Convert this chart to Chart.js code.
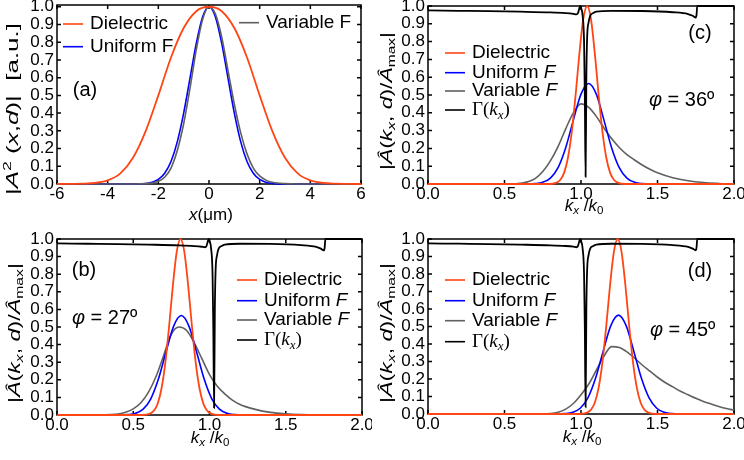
<!DOCTYPE html>
<html lang="en">
<head>
<meta charset="UTF-8" />
<title>Beam profile and angular spectra</title>
<script src="https://cdn.jsdelivr.net/npm/chart.js"></script>
<style>
  body { margin: 0; background: #fff; width: 744px; height: 460px; overflow: hidden; position: relative; }
  canvas { position: absolute; }
</style>
</head>
<body>
<canvas id="panelA" width="372" height="230" style="left:0;top:0"></canvas>
<canvas id="panelC" width="372" height="230" style="left:372px;top:0"></canvas>
<canvas id="panelB" width="372" height="230" style="left:0;top:230px"></canvas>
<canvas id="panelD" width="372" height="230" style="left:372px;top:230px"></canvas>
<script>
// ---- panel (a): |A^2(x,d)| versus x (um) ----
const xTicksA = [-6, -4, -2, 0, 2, 4, 6];
const yTicks = [0, 0.1, 0.2, 0.3, 0.4, 0.5, 0.6, 0.7, 0.8, 0.9, 1.0];

const dielAx = [-6, -5.5, -5, -4.5, -4, -3.5, -3, -2.5, -2, -1.5, -1, -0.5, 0, 0.5, 1, 1.5, 2, 2.5, 3, 3.5, 4, 4.5, 5, 5.5, 6];
const dielAy = [0, 0.001, 0.002, 0.006, 0.02, 0.06, 0.148, 0.298, 0.5, 0.714, 0.88, 0.975, 1, 0.975, 0.88, 0.714, 0.5, 0.298, 0.148, 0.06, 0.02, 0.006, 0.002, 0.001, 0];
const unifAx = [-6, -3, -2.5, -2.25, -2, -1.75, -1.5, -1.25, -1, -0.75, -0.5, -0.25, 0, 0.25, 0.5, 0.75, 1, 1.25, 1.5, 1.75, 2, 2.25, 2.5, 3, 6];
const unifAy = [0, 0, 0.003, 0.01, 0.026, 0.061, 0.127, 0.239, 0.40, 0.597, 0.795, 0.944, 1, 0.944, 0.795, 0.597, 0.40, 0.239, 0.127, 0.061, 0.026, 0.01, 0.003, 0, 0];
const varAx = [-6, -3, -2.5, -2.25, -2, -1.75, -1.5, -1.25, -1, -0.75, -0.5, -0.25, 0, 0.25, 0.5, 0.75, 1, 1.25, 1.5, 1.75, 2, 2.25, 2.5, 3, 3.5, 6];
const varAy = [0, 0, 0.002, 0.006, 0.015, 0.038, 0.09, 0.19, 0.34, 0.54, 0.76, 0.93, 1, 0.96, 0.83, 0.64, 0.45, 0.29, 0.17, 0.09, 0.046, 0.022, 0.01, 0.002, 0, 0];

// ---- panels (b), (c), (d): spectra versus kx/k0 ----
const xTicksK = [0, 0.5, 1.0, 1.5, 2.0];

// reflection coefficient, same in all three spectra
const gammaX = [0, 0.2, 0.4, 0.6, 0.8, 0.9, 0.95, 0.97, 0.98, 0.99, 0.995, 1.0, 1.01, 1.02, 1.025, 1.03, 1.035, 1.04, 1.05, 1.06, 1.08, 1.1, 1.2, 1.4, 1.6, 1.7, 1.73, 1.75, 1.755, 1.76, 2.0];
const gammaY = [0.975, 0.973, 0.971, 0.968, 0.964, 0.96, 0.956, 0.953, 0.96, 0.99, 1.0, 0.99, 0.95, 0.8, 0.5, 0.04, 0.6, 0.82, 0.91, 0.945, 0.96, 0.968, 0.973, 0.972, 0.965, 0.955, 0.945, 0.935, 0.95, 1.0, 1.0];

// phi = 27 deg
const dielBx = [0, 0.56, 0.61, 0.635, 0.66, 0.685, 0.71, 0.735, 0.76, 0.785, 0.81, 0.835, 0.86, 0.885, 0.91, 0.935, 0.96, 0.985, 1.01, 1.06, 2.0];
const dielBy = [0, 0, 0.008, 0.024, 0.064, 0.149, 0.295, 0.503, 0.737, 0.927, 1.0, 0.927, 0.737, 0.503, 0.295, 0.149, 0.064, 0.024, 0.008, 0, 0];
const unifBx = [0, 0.415, 0.465, 0.515, 0.565, 0.615, 0.665, 0.715, 0.765, 0.815, 0.865, 0.915, 0.965, 1.015, 1.065, 1.115, 1.165, 1.215, 2.0];
const unifBy = [0, 0, 0.002, 0.0096, 0.033, 0.092, 0.204, 0.359, 0.505, 0.565, 0.505, 0.359, 0.204, 0.092, 0.033, 0.0096, 0.002, 0, 0];
const varBx = [0, 0.3, 0.35, 0.4, 0.45, 0.5, 0.55, 0.6, 0.65, 0.7, 0.75, 0.8, 0.85, 0.9, 0.95, 1.0, 1.05, 1.1, 1.15, 1.2, 1.3, 1.4, 1.5, 1.6, 1.8, 2.0];
const varBy = [0, 0, 0.002, 0.006, 0.016, 0.035, 0.07, 0.13, 0.22, 0.34, 0.46, 0.50, 0.48, 0.41, 0.32, 0.23, 0.165, 0.12, 0.085, 0.06, 0.032, 0.015, 0.007, 0.003, 0, 0];

// phi = 36 deg
const dielCx = [0, 0.79, 0.84, 0.865, 0.89, 0.915, 0.94, 0.965, 0.99, 1.015, 1.04, 1.065, 1.09, 1.115, 1.14, 1.165, 1.19, 1.215, 1.24, 1.29, 2.0];
const dielCy = [0, 0, 0.008, 0.024, 0.064, 0.149, 0.295, 0.503, 0.737, 0.927, 1.0, 0.927, 0.737, 0.503, 0.295, 0.149, 0.064, 0.024, 0.008, 0, 0];
const unifCx = [0, 0.65, 0.7, 0.75, 0.8, 0.85, 0.9, 0.95, 1.0, 1.05, 1.1, 1.15, 1.2, 1.25, 1.3, 1.35, 1.4, 1.45, 2.0];
const unifCy = [0, 0, 0.002, 0.0096, 0.033, 0.092, 0.204, 0.359, 0.505, 0.565, 0.505, 0.359, 0.204, 0.092, 0.033, 0.0096, 0.002, 0, 0];
const varCx = [0, 0.55, 0.6, 0.65, 0.7, 0.75, 0.8, 0.85, 0.9, 0.95, 1.0, 1.05, 1.1, 1.15, 1.2, 1.25, 1.3, 1.35, 1.4, 1.45, 1.5, 1.6, 1.7, 1.8, 1.9, 2.0];
const varCy = [0, 0, 0.004, 0.012, 0.03, 0.07, 0.13, 0.21, 0.31, 0.40, 0.45, 0.43, 0.38, 0.315, 0.255, 0.205, 0.165, 0.135, 0.107, 0.083, 0.063, 0.035, 0.018, 0.008, 0.003, 0];

// phi = 45 deg
const dielDx = [0, 0.99, 1.04, 1.065, 1.09, 1.115, 1.14, 1.165, 1.19, 1.215, 1.24, 1.265, 1.29, 1.315, 1.34, 1.365, 1.39, 1.415, 1.44, 1.49, 2.0];
const dielDy = [0, 0, 0.008, 0.024, 0.064, 0.149, 0.295, 0.503, 0.737, 0.927, 1.0, 0.927, 0.737, 0.503, 0.295, 0.149, 0.064, 0.024, 0.008, 0, 0];
const unifDx = [0, 0.845, 0.895, 0.945, 0.995, 1.045, 1.095, 1.145, 1.195, 1.245, 1.295, 1.345, 1.395, 1.445, 1.495, 1.545, 1.595, 1.645, 2.0];
const unifDy = [0, 0, 0.002, 0.0096, 0.033, 0.092, 0.204, 0.359, 0.505, 0.565, 0.505, 0.359, 0.204, 0.092, 0.033, 0.0096, 0.002, 0, 0];
const varDx = [0, 0.75, 0.8, 0.85, 0.9, 0.95, 1.0, 1.05, 1.1, 1.15, 1.2, 1.25, 1.3, 1.35, 1.4, 1.45, 1.5, 1.55, 1.6, 1.65, 1.7, 1.75, 1.8, 1.85, 1.9, 1.95, 2.0];
const varDy = [0, 0, 0.002, 0.01, 0.028, 0.06, 0.11, 0.17, 0.25, 0.33, 0.385, 0.38, 0.355, 0.32, 0.28, 0.245, 0.21, 0.18, 0.155, 0.13, 0.11, 0.09, 0.072, 0.057, 0.043, 0.031, 0.022];

const SANS = '"Liberation Sans", Arial, sans-serif';
const SERIF = '"Liberation Serif", "Times New Roman", serif';
const RED = '#ff4514', BLUE = '#0000ff', GRAY = '#606060', BLACK = '#000000';

// rich text runs: [text, flags]  i = italic, b = subscript, p = superscript, r = serif
function runFont(flags, size) {
  const s = /[bp]/.test(flags) ? size * 0.68 : size;
  return (flags.includes('i') ? 'italic ' : '') + s + 'px ' + (flags.includes('r') ? SERIF : SANS);
}
function richWidth(ctx, runs, size) {
  let w = 0;
  for (const [t, f] of runs) { ctx.font = runFont(f, size); w += ctx.measureText(t).width; }
  return w;
}
function drawRich(ctx, runs, x, y, size, center) {
  let cx = center ? x - richWidth(ctx, runs, size) / 2 : x;
  ctx.textBaseline = 'middle';
  ctx.textAlign = 'left';
  ctx.fillStyle = '#000';
  for (const [t, f] of runs) {
    ctx.font = runFont(f, size);
    const dy = f.includes('b') ? size * 0.28 : f.includes('p') ? -size * 0.32 : 0;
    ctx.fillText(t, cx, y + dy);
    cx += ctx.measureText(t).width;
  }
}

const yTitleA = [['|', ''], ['A', 'i'], ['2', 'p'], [' (', ''], ['x', 'i'], [',', ''], ['d', 'i'], [')|  [a.u.]', '']];
const xTitleA = [['x', 'i'], ['(\u03bcm)', '']];
const yTitleK = [['|', ''], ['\u00c2', 'i'], ['(', ''], ['k', 'i'], ['x', 'ib'], [', ', ''], ['d', 'i'], [')/', ''], ['\u00c2', 'i'], ['max', 'b'], ['|', '']];
const xTitleK = [['k', 'i'], ['x', 'ib'], [' /', ''], ['k', 'i'], ['0', 'b']];
const gammaLabel = [['\u0393(', 'r'], ['k', 'ri'], ['x', 'rib'], [')', 'r']];
const specLabels = [[['Dielectric', '']], [['Uniform ', ''], ['F', 'i']], [['Variable ', ''], ['F', 'i']], gammaLabel];
const phi = deg => [['\u03c6', 'i'], [' = ' + deg + '\u00ba', '']];

// box with inward ticks on all four sides
const framePlugin = {
  id: 'frame',
  beforeDatasetsDraw(chart) {
    const { ctx, chartArea: a, scales: { x, y } } = chart;
    ctx.save();
    ctx.strokeStyle = '#000';
    ctx.lineWidth = 1.5;
    ctx.strokeRect(a.left, a.top, a.right - a.left, a.bottom - a.top);
    ctx.beginPath();
    x.ticks.forEach(t => {
      const px = x.getPixelForValue(t.value);
      ctx.moveTo(px, a.bottom); ctx.lineTo(px, a.bottom - 4);
      ctx.moveTo(px, a.top); ctx.lineTo(px, a.top + 4);
    });
    y.ticks.forEach(t => {
      const py = y.getPixelForValue(t.value);
      ctx.moveTo(a.left, py); ctx.lineTo(a.left + 4, py);
      ctx.moveTo(a.right, py); ctx.lineTo(a.right - 4, py);
    });
    ctx.stroke();
    ctx.restore();
  }
};

// axis titles, panel letter, angle and the legend
function notesPlugin(n) {
  return {
    id: 'notes',
    afterDraw(chart) {
      const ctx = chart.ctx;
      const ds = chart.data.datasets;
      const [yRuns, yx, yy, yLen] = n.yTitle;
      ctx.save();
      ctx.save();
      ctx.translate(yx, yy);
      ctx.rotate(-Math.PI / 2);
      ctx.scale(yLen / richWidth(ctx, yRuns, 17), 1);
      drawRich(ctx, yRuns, 0, 0, 17, true);
      ctx.restore();
      drawRich(ctx, n.xTitle[0], n.xTitle[1], n.xTitle[2], 17, true);
      drawRich(ctx, [[n.tag[0], '']], n.tag[1], n.tag[2], 20, true);
      if (n.phi) drawRich(ctx, n.phi[0], n.phi[1], n.phi[2], 20, false);
      n.legend.forEach(([idx, runs, x0, y0]) => {
        ctx.strokeStyle = ds[idx].borderColor;
        ctx.lineWidth = 1.6;
        ctx.beginPath();
        ctx.moveTo(x0, y0); ctx.lineTo(x0 + 20, y0);
        ctx.stroke();
        drawRich(ctx, runs, x0 + 27, y0, 19, false);
      });
      ctx.restore();
    }
  };
}

function series(xs, ys, color, width, order) {
  return {
    data: xs.map((x, i) => ({ x, y: ys[i] })),
    borderColor: color, borderWidth: width, order, clip: false,
    pointRadius: 0, cubicInterpolationMode: 'monotone'
  };
}

function makePanel(id, datasets, p) {
  const tickFont = { family: SANS, size: 17 };
  return new Chart(document.getElementById(id), {
    type: 'line',
    data: { datasets },
    options: {
      responsive: false,
      animation: false,
      events: [],
      layout: { padding: { top: p.top, right: p.right, left: 0, bottom: 0 } },
      plugins: { legend: { display: false }, tooltip: { enabled: false } },
      scales: {
        x: {
          type: 'linear', min: p.xMin, max: p.xMax,
          grid: { display: false, drawTicks: false }, border: { display: false },
          ticks: { font: tickFont, color: '#000', padding: 0, maxRotation: 0, autoSkip: false, callback: p.xFmt },
          afterBuildTicks: s => { s.ticks = p.xTicks.map(v => ({ value: v })); },
          afterFit: s => { s.height = p.xHeight; s.paddingLeft = 0; s.paddingRight = 0; }
        },
        y: {
          type: 'linear', min: 0, max: p.yMax,
          grid: { display: false, drawTicks: false }, border: { display: false },
          ticks: { font: tickFont, color: '#000', padding: 3, autoSkip: false, callback: v => v.toFixed(1) },
          afterBuildTicks: s => { s.ticks = yTicks.map(v => ({ value: v })); },
          afterFit: s => { s.width = p.left; s.paddingTop = 0; s.paddingBottom = 0; }
        }
      }
    },
    plugins: [framePlugin, notesPlugin(p.notes)]
  });
}

const fmtInt = v => String(v);
const fmtOne = v => v.toFixed(1);

makePanel('panelA', [
  series(dielAx, dielAy, RED, 1.8, 0),
  series(varAx, varAy, GRAY, 1.6, 1),
  series(unifAx, unifAy, BLUE, 1.6, 2)
], {
  xMin: -6, xMax: 6, xTicks: xTicksA, xFmt: fmtInt, yMax: 1.01,
  left: 57, top: 5, right: 11, xHeight: 46,
  notes: {
    yTitle: [yTitleA, 13, 109, 172], xTitle: [xTitleA, 211, 215], tag: ['(a)', 85, 90],
    legend: [[0, [['Dielectric', '']], 63, 24], [2, [['Uniform F', '']], 63, 46.7], [1, [['Variable F', '']], 239, 22.7]]
  }
});

function specPanel(id, dx, dy, ux, uy, vx, vy, p) {
  return makePanel(id, [
    series(dx, dy, RED, 1.8, 1),
    series(ux, uy, BLUE, 1.6, 2),
    series(vx, vy, GRAY, 1.6, 3),
    series(gammaX, gammaY, BLACK, 1.8, 0)
  ], Object.assign({ xMin: 0, xMax: 2, xTicks: xTicksK, xFmt: fmtOne, yMax: 1 }, p));
}

function specLegend(x0, rows) {
  return specLabels.map((runs, i) => [i, runs, x0, rows[i]]);
}

specPanel('panelC', dielCx, dielCy, unifCx, unifCy, varCx, varCy, {
  left: 56, top: 6, right: 10, xHeight: 46,
  notes: {
    yTitle: [yTitleK, 15, 101, 138], xTitle: [xTitleK, 212, 206], tag: ['(c)', 328, 33],
    phi: [phi(36), 277, 100],
    legend: specLegend(73, [53, 72.7, 91, 110])
  }
});

specPanel('panelB', dielBx, dielBy, unifBx, unifBy, varBx, varBy, {
  left: 57, top: 9, right: 10, xHeight: 45,
  notes: {
    yTitle: [yTitleK, 15, 103, 140], xTitle: [xTitleK, 210, 208], tag: ['(b)', 84, 40],
    phi: [phi(27), 72, 88],
    legend: specLegend(237, [50, 70.7, 90, 110])
  }
});

specPanel('panelD', dielDx, dielDy, unifDx, unifDy, varDx, varDy, {
  left: 56, top: 9, right: 10, xHeight: 46,
  notes: {
    yTitle: [yTitleK, 15, 103, 140], xTitle: [xTitleK, 210, 207], tag: ['(d)', 328, 41.7],
    phi: [phi(45), 278, 100],
    legend: specLegend(73, [50, 70.7, 90.7, 111.7])
  }
});
</script>
</body>
</html>
